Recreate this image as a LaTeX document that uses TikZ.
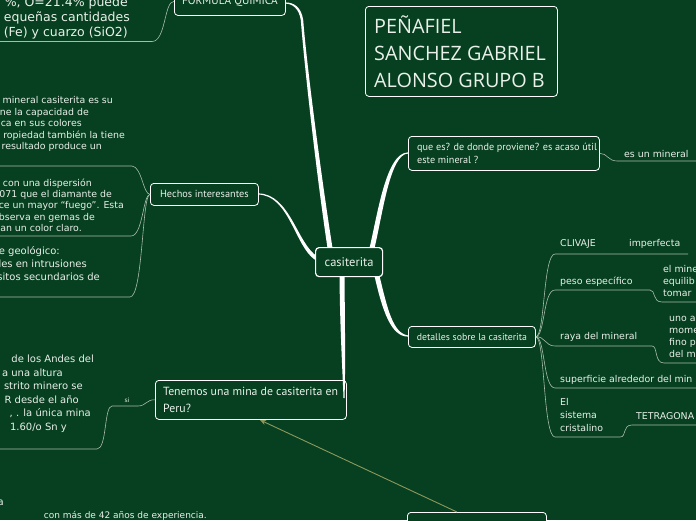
\documentclass[tikz,border=0pt]{standalone}
\usepackage{fontspec}
\setmainfont{DejaVu Sans}
\newfontfamily\handf{PT Sans}
\newfontfamily\titlef{Open Sans}
\usetikzlibrary{arrows.meta}
\definecolor{bg}{RGB}{6,64,32}
\definecolor{tx}{RGB}{234,240,234}
\definecolor{thin}{RGB}{168,188,170}
\definecolor{arr}{RGB}{140,152,92}
\begin{document}
\begin{tikzpicture}[x=1pt,y=-1pt,
  box/.style={draw=white, line width=0.8pt, rounded corners=3.5pt, fill=bg, inner sep=0pt, anchor=north west},
  thinl/.style={draw=thin, line width=0.6pt},
  txt/.style={inner sep=0pt, text=tx},
  rt/.style={txt, anchor=base east},
  lt/.style={txt, anchor=base west},
  sm/.style={font=\fontsize{9.4}{11}\selectfont},
  md/.style={font=\fontsize{10}{12}\selectfont},
  hw/.style={txt, font=\handf\fontsize{#1}{#1}\selectfont},
  branch/.style={fill=white}]
\useasboundingbox (0,0) rectangle (696,520);
\fill[bg] (0,0) rectangle (696,520);
\clip (0,0) rectangle (696,520);

% ---------- boxes ----------
\node[box, minimum width=111, minimum height=28] (formula) at (174,-13) {};
\node[hw=11.3, anchor=center] (formulaT) at (formula.center) {FORMULA QUIMICA};
\node[box, minimum width=192, minimum height=90] (title) at (365,6) {};
\node[txt, anchor=west, align=left, font=\titlef\fontsize{19.8}{27}\selectfont] (titleT) at ([xshift=9pt]title.west) {PEÑAFIEL\\SANCHEZ GABRIEL\\ALONSO GRUPO B};
\node[box, minimum width=191, minimum height=34] (queres) at (408,136) {};
\node[txt, anchor=west, align=left, font=\handf\fontsize{10.2}{13}\selectfont] (queresT) at ([xshift=9pt]queres.west) {que es? de donde proviene? es acaso útil\\este mineral ?};
\node[box, minimum width=108, minimum height=22] (hechos) at (150,183) {};
\node[hw=10.3, anchor=center] (hechosT) at (hechos.center) {Hechos interesantes};
\node[box, minimum width=191, minimum height=39] (tenemos) at (155,380) {};
\node[txt, anchor=west, align=left, font=\handf\fontsize{11.8}{17}\selectfont] (tenemosT) at ([xshift=8pt]tenemos.west) {Tenemos una mina de casiterita en\\Peru?};
\node[box, minimum width=127, minimum height=21] (detalles) at (408,326) {};
\node[hw=9.8, anchor=center] (detallesT) at (detalles.center) {detalles sobre la casiterita};
\node[box, minimum width=139, minimum height=30] (bottom) at (407,512) {};

% ---------- thick branches ----------
\fill[branch] (327.5,248) .. controls (315.8,170) and (303.8,60) .. (300.8,20)
   .. controls (299,9) and (293,3.6) .. (285,3.6) -- (285,2.4)
   .. controls (294,2.4) and (301.2,7) .. (303.2,20)
   .. controls (306.2,60) and (320.2,170) .. (332.5,248) -- cycle;
\fill[branch] (369.5,248) .. controls (377.5,215) and (386,152.4) .. (408,152.4) -- (408,153.6)
   .. controls (390,153.6) and (382.5,215) .. (374.5,248) -- cycle;
\fill[branch] (317.1,256.3) .. controls (297,243.6) and (290,193.4) .. (258,193.4) -- (258,194.6)
   .. controls (289,194.6) and (295,246.4) .. (314.9,259.7) -- cycle;
\fill[branch] (339.5,276) .. controls (340,330) and (342.5,370) .. (343.5,398) -- (344.5,398)
   .. controls (345.5,370) and (345,330) .. (344.5,276) -- cycle;
\fill[branch] (374.5,276) .. controls (382.5,311) and (391,336.6) .. (408,336.6) -- (408,335.4)
   .. controls (393,333.4) and (387.5,309) .. (379.5,276) -- cycle;

\node[box, line width=1.2pt, minimum width=67, minimum height=29] (casit) at (315,247) {};
\node[hw=12.5, anchor=center] (casitT) at (casit.center) {casiterita};

% ---------- thin connectors ----------
\coordinate (u0) at (-2,41.5);
\draw[thinl] (formula.west) .. controls (164,1) and (166,41.5) .. (152,41.5) -- (u0);
\coordinate (u1) at (-2,166);
\coordinate (u2) at (-2,236);
\coordinate (u3) at (-2,297);
\draw[thinl] (hechos.west) .. controls (143,194) and (142,167) .. (132,166) -- (u1);
\draw[thinl] (hechos.west) .. controls (143,194) and (143,236) .. (131,236) -- (u2);
\draw[thinl] (hechos.west) .. controls (142,194) and (143,297) .. (130,297) -- (u3);
\coordinate (u4) at (-2,449);
\draw[thinl] (tenemos.west) .. controls (147,399) and (146,406) .. (138,406) -- (112,406)
   .. controls (104,406) and (107,449) .. (97,449) -- (u4);
\node[txt, font=\fontsize{6}{6}\selectfont] (si) at (127,400) {si};
\coordinate (u5) at (698,161);
\draw[thinl] (queres.east) .. controls (607,153) and (608,161) .. (617,161) -- (u5);
\coordinate (c1) at (688,254);
\coordinate (c2) at (698,302);
\coordinate (c3) at (698,363);
\coordinate (c4) at (698,388);
\coordinate (c5) at (698,425);
\draw[thinl] (detalles.east) .. controls (545,336) and (543,254) .. (555,254) -- (c1);
\draw[thinl] (detalles.east) .. controls (545,336) and (543,290) .. (555,290) -- (650,290)
   .. controls (656,290) and (652,302) .. (662,302) -- (c2);
\draw[thinl] (detalles.east) .. controls (545,336) and (545,346) .. (555,346) -- (652,346)
   .. controls (658,346) and (654,363) .. (664,363) -- (c3);
\draw[thinl] (detalles.east) .. controls (545,336) and (543,388) .. (555,388) -- (c4);
\draw[thinl] (detalles.east) .. controls (545,336) and (543,437) .. (555,437) -- (620,437)
   .. controls (627,437) and (622,425) .. (632,425) -- (c5);

% ---------- arrow ----------
\coordinate (a1) at (457,512);
\coordinate (a2) at (260,420);
\draw[arr, line width=0.9pt, -{Stealth[open, length=6pt, width=5pt]}] (a1) -- (a2);

% ---------- texts ----------
\node[rt, font=\fontsize{12.5}{15}\selectfont] (f1) at (128,6.5) {\%, O=21.4\% puede};
\node[rt, font=\fontsize{12.5}{15}\selectfont] (f2) at (130,21.5) {equeñas cantidades};
\node[rt, font=\fontsize{12.5}{15}\selectfont] (f3) at (128,36.5) {(Fe) y cuarzo (SiO2)};

\node[rt, sm] (h11) at (113,103.5) {mineral casiterita es su};
\node[rt, sm] (h12) at (89,115) {ne la capacidad de};
\node[rt, sm] (h13) at (82,126.5) {ca en sus colores};
\node[rt, sm] (h14) at (125,138) {ropiedad también la tiene};
\node[rt, sm] (h15) at (102,149.5) {resultado produce un};

\node[rt, sm] (h21) at (92,186) {con una dispersión};
\node[rt, sm] (h22) at (112,197.4) {071 que el diamante de};
\node[rt, sm] (h23) at (124,208.8) {ce un mayor “fuego”. Esta};
\node[rt, sm] (h24) at (95,220.2) {bserva en gemas de};
\node[rt, sm] (h25) at (82,231.6) {an un color claro.};

\node[rt, md] (h31) at (60,254) {e geológico:};
\node[rt, md] (h32) at (87,267.3) {les en intrusiones};
\node[rt, md] (h33) at (100,280.5) {sitos secundarios de};

\node[rt, md] (p1) at (94,362.5) {de los Andes del};
\node[rt, md] (p2) at (63,376) {a una altura};
\node[rt, md] (p3) at (83,389.5) {strito minero se};
\node[rt, md] (p4) at (79,403) {R desde el año};
\node[rt, md] (p5) at (91,416.5) {, . la única mina};
\node[rt, md] (p6) at (67,430) {1.60/o Sn y};

\node[rt, md] (b1) at (4,505.5) {a};
\node[rt, font=\fontsize{9}{11}\selectfont] (b2) at (207,518.5) {con más de 42 años de experiencia.};

\node[lt, sm] (esun) at (624,157) {es un mineral};
\node[lt, sm] (cliv) at (560,246.5) {CLIVAJE};
\node[lt, sm] (imp) at (629,246.5) {imperfecta};
\node[lt, sm] (peso) at (560,284.5) {peso específico};
\node[lt, sm] (pe1) at (663,272.5) {el mine};
\node[lt, sm] (pe2) at (663,284.5) {equilib};
\node[lt, sm] (pe3) at (663,296.5) {tomar};
\node[lt, sm] (raya) at (560,339.5) {raya del mineral};
\node[lt, sm] (r1) at (669,321.5) {uno a};
\node[lt, sm] (r2) at (669,333.5) {mome};
\node[lt, sm] (r3) at (669,345.5) {fino p};
\node[lt, sm] (r4) at (669,357.5) {del m};
\node[lt, sm] (sup) at (560,382.5) {superficie alrededor del min};
\node[lt, sm] (s1) at (560,405.5) {El};
\node[lt, sm] (s2) at (560,418.5) {sistema};
\node[lt, sm] (s3) at (560,431.5) {cristalino};
\node[lt, sm] (tetra) at (636,419.5) {TETRAGONA};
\end{tikzpicture}
\end{document}
